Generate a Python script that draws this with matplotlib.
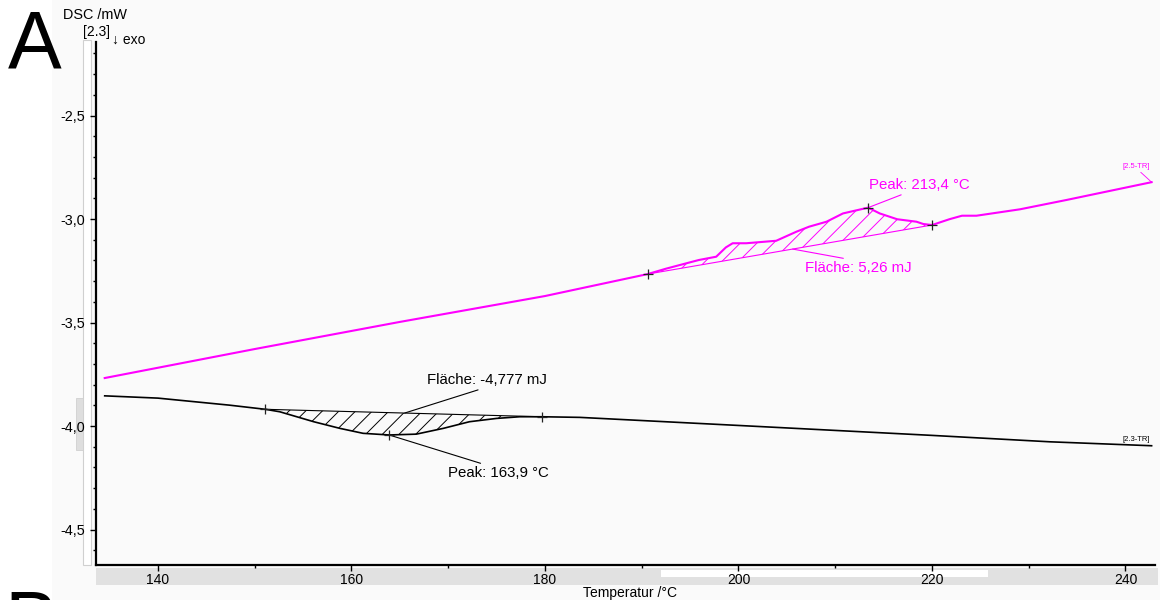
import matplotlib
matplotlib.use('Agg')

import matplotlib.pyplot as plt
import numpy as np
from matplotlib.patches import Rectangle
from matplotlib.ticker import MultipleLocator, FuncFormatter

plt.rcParams['font.family'] = ['Liberation Sans', 'DejaVu Sans']
plt.rcParams['hatch.linewidth'] = 0.7

# ---------------------------
# DATA
# ---------------------------
# 2.5-TR (magenta), temperature in °C, DSC in mW
t_pink = [134.5, 150.0, 165.0, 180.0, 190.6, 192.5, 194.6, 195.9, 197.7, 198.7,
          199.4, 200.8, 203.9, 206.0, 207.3, 209.1, 210.8, 213.4, 214.6, 216.4,
          218.4, 219.1, 220.0, 221.8, 223.1, 224.6, 229.1, 233.9, 242.7]
v_pink = [-3.768, -3.628, -3.497, -3.372, -3.266, -3.240, -3.214, -3.198, -3.182, -3.137,
          -3.117, -3.117, -3.105, -3.061, -3.037, -3.013, -2.973, -2.945, -2.973, -3.001,
          -3.013, -3.024, -3.029, -3.001, -2.984, -2.984, -2.953, -2.908, -2.822]
pink_onset, pink_peak, pink_end = 190.6, 213.4, 220.0

# 2.3-TR (black)
t_black = [134.5, 140.0, 147.4, 151.1, 152.6, 156.1, 158.8, 161.2, 163.9, 166.7,
           169.5, 172.2, 175.0, 177.4, 179.7, 183.6, 200.0, 220.0, 232.2, 242.7]
v_black = [-3.854, -3.865, -3.899, -3.919, -3.931, -3.979, -4.011, -4.035, -4.043, -4.039,
           -4.011, -3.979, -3.963, -3.955, -3.955, -3.958, -3.997, -4.045, -4.076, -4.095]
black_onset, black_peak, black_end = 151.1, 163.9, 179.7

PINK = '#ff00ff'
W, H = 1160, 600

def px(x0, y0, x1, y1):
    # pixel box (top-left origin) -> figure fractions
    return [x0 / W, 1 - y1 / H, (x1 - x0) / W, (y1 - y0) / H]

# ---------------------------
# FIGURE
# ---------------------------
fig = plt.figure(figsize=(11.6, 6.0), dpi=100)
fig.patch.set_facecolor('white')

# light panel behind the plot
r = px(52, 0, 1160, 600)
fig.add_artist(Rectangle((r[0], r[1]), r[2], r[3], transform=fig.transFigure,
                         facecolor='#fafafa', edgecolor='none', zorder=-5))
# x scrollbar strip
r = px(96, 568, 1158, 585)
fig.add_artist(Rectangle((r[0], r[1]), r[2], r[3], transform=fig.transFigure,
                         facecolor='#e1e1e1', edgecolor='none', zorder=-4))
r = px(661, 570, 988, 577)
fig.add_artist(Rectangle((r[0], r[1]), r[2], r[3], transform=fig.transFigure,
                         facecolor='white', edgecolor='none', zorder=-3))
# y scrollbar strip
r = px(83, 40, 91, 565)
fig.add_artist(Rectangle((r[0], r[1]), r[2], r[3], transform=fig.transFigure,
                         facecolor='white', edgecolor='#d0d0d0', lw=0.8, zorder=-4))
r = px(76, 398, 83, 450)
fig.add_artist(Rectangle((r[0], r[1]), r[2], r[3], transform=fig.transFigure,
                         facecolor='#dedede', edgecolor='#d0d0d0', lw=0.6, zorder=-4))

ax = fig.add_axes(px(96, 42, 1155, 565))
ax.set_facecolor('none')
ax.set_xlim(133.6, 243.05)
ax.set_ylim(-4.671, -2.145)

for s in ['top', 'right']:
    ax.spines[s].set_visible(False)
for s in ['left', 'bottom']:
    ax.spines[s].set_linewidth(1.6)

ax.xaxis.set_major_locator(MultipleLocator(20))
ax.xaxis.set_minor_locator(MultipleLocator(10))
ax.yaxis.set_major_locator(MultipleLocator(0.5))
ax.yaxis.set_minor_locator(MultipleLocator(0.1))
ax.yaxis.set_major_formatter(FuncFormatter(lambda v, p: f"{v:.1f}".replace('.', ',')))
ax.tick_params(which='major', length=4, width=1, direction='out')
ax.tick_params(which='minor', length=2, width=1, direction='out')
ax.tick_params(axis='x', labelsize=10, pad=1.5)
ax.tick_params(axis='y', labelsize=10.4, pad=4)

# curves
ax.plot(t_pink, v_pink, color=PINK, lw=1.5, zorder=3)
ax.plot(t_black, v_black, color='black', lw=1.2, zorder=3)

# baselines + hatched areas
def peak_area(t, v, t0, t1, color):
    t = np.array(t)
    v = np.array(v)
    y0 = np.interp(t0, t, v)
    y1 = np.interp(t1, t, v)
    m = (t >= t0) & (t <= t1)
    base = np.interp(t[m], [t0, t1], [y0, y1])
    ax.plot([t0, t1], [y0, y1], color=color, lw=0.8, zorder=2)
    ax.fill_between(t[m], base, v[m], facecolor='none', edgecolor=color,
                    hatch='//', linewidth=0, zorder=1)
    return y0, y1

py0, py1 = peak_area(t_pink, v_pink, pink_onset, pink_end, PINK)
by0, by1 = peak_area(t_black, v_black, black_onset, black_end, 'black')

# characteristic points
for ts, vs, pts in [(t_pink, v_pink, [pink_onset, pink_peak, pink_end]),
                    (t_black, v_black, [black_onset, black_peak, black_end])]:
    ax.plot(pts, np.interp(pts, ts, vs), '+', color='#222222', ms=7, mew=0.9, zorder=4)

# annotations
fs = 10.8
pk = np.interp(pink_peak, t_pink, v_pink)
ax.annotate("Peak: 213,4 °C", xy=(pink_peak, pk), xytext=(213.5, -2.836),
            color=PINK, fontsize=fs, ha='left', va='center',
            arrowprops=dict(arrowstyle='-', color=PINK, lw=0.8, relpos=(0.39, 0),
                            shrinkA=0, shrinkB=0))
t_a = 205.6
ax.annotate("Fläche: 5,26 mJ", xy=(t_a, np.interp(t_a, [pink_onset, pink_end], [py0, py1])),
            xytext=(206.9, -3.237), color=PINK, fontsize=fs, ha='left', va='center',
            arrowprops=dict(arrowstyle='-', color=PINK, lw=0.8, relpos=(0.5, 1),
                            shrinkA=0, shrinkB=0))
t_b = 165.5
ax.annotate("Fläche: -4,777 mJ", xy=(t_b, np.interp(t_b, [black_onset, black_end], [by0, by1])),
            xytext=(167.8, -3.778), color='black', fontsize=fs, ha='left', va='center',
            arrowprops=dict(arrowstyle='-', color='black', lw=0.8, relpos=(0.5, 0),
                            shrinkA=0, shrinkB=0))
bk = np.interp(black_peak, t_black, v_black)
ax.annotate("Peak: 163,9 °C", xy=(black_peak, bk), xytext=(170.0, -4.227),
            color='black', fontsize=fs, ha='left', va='center',
            arrowprops=dict(arrowstyle='-', color='black', lw=0.8, relpos=(0.41, 1),
                            shrinkA=0, shrinkB=0))

# curve tags
ax.annotate("[2.5-TR]", xy=(t_pink[-1], v_pink[-1]), xytext=(239.7, -2.744),
            color=PINK, fontsize=5.5, ha='left', va='center',
            arrowprops=dict(arrowstyle='-', color=PINK, lw=0.6, relpos=(0.55, 0),
                            shrinkA=0, shrinkB=0))
ax.annotate("[2.3-TR]", xy=(t_black[-1], v_black[-1]), xytext=(239.7, -4.063),
            color='black', fontsize=5.5, ha='left', va='center',
            arrowprops=dict(arrowstyle='-', color='black', lw=0.6, relpos=(0.8, 0),
                            shrinkA=0, shrinkB=0))

# axis titles
fig.text(63 / W, 1 - 15 / H, "DSC /mW", fontsize=10.4, ha='left', va='center')
fig.text(83 / W, 1 - 32 / H, "[2.3]", fontsize=10, ha='left', va='center')
fig.text(112 / W, 1 - 40 / H, "↓ exo", fontsize=10, ha='left', va='center')
fig.text(630 / W, 1 - 593 / H, "Temperatur /°C", fontsize=10, ha='center', va='center')

# panel letters
fig.text(8 / W, 1 - 68 / H, "A", fontsize=58, ha='left', va='baseline')
fig.text(4 / W, 1 - 648 / H, "B", fontsize=58, ha='left', va='baseline')

fig.savefig('out.png', dpi=100)
